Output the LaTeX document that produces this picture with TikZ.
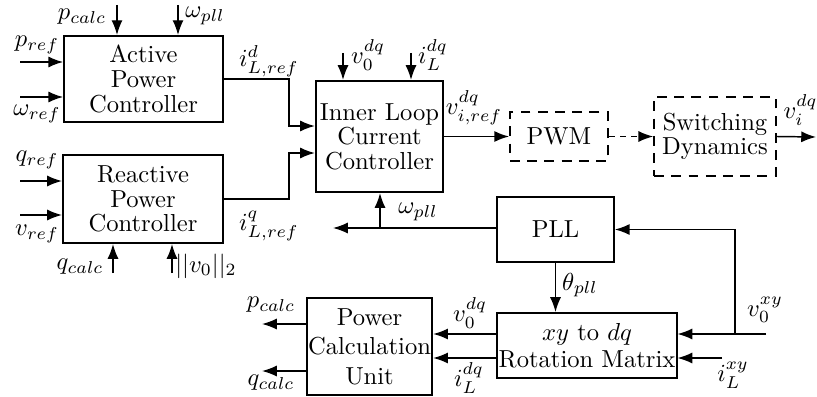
\documentclass[tikz,border=0pt]{standalone}
\usepackage{amsmath,amssymb}
\usepackage{tikz}
\usetikzlibrary{arrows.meta, positioning}

\begin{document}
\begin{tikzpicture}[
  x=0.0143cm, y=-0.0143cm,
  block_box/.style={rectangle, draw=black, thick, align=center, inner sep=0.5pt, font=\fontsize{10pt}{10pt}\selectfont},
  dash_box/.style={rectangle, draw=black, thick, dash pattern=on 4pt off 3pt, align=center, inner sep=0.5pt, font=\fontsize{10pt}{10pt}\selectfont},
  sig_label/.style={inner sep=1pt},
  arrow/.style={-{Latex[length=6pt,width=4.5pt]}, semithick},
  dash_arrow/.style={-{Latex[length=6pt,width=4.5pt]}, semithick, dash pattern=on 2.5pt off 2pt}
]
\useasboundingbox (0,0) rectangle (817,396);

% Controllers
\node[block_box, minimum width=2.27cm, minimum height=1.23cm] (apc) at (143.5,79) {Active\\Power\\Controller};
\node[block_box, minimum width=2.29cm, minimum height=1.26cm] (rpc) at (143,199) {Reactive\\Power\\Controller};
\node[block_box, minimum width=1.82cm, minimum height=1.59cm] (ilc) at (379.5,136.5) {Inner Loop\\Current\\Controller};

% Modulation
\node[dash_box, minimum width=1.40cm, minimum height=0.69cm] (pwm) at (559,136.5) {PWM};
\node[dash_box, minimum width=1.74cm, minimum height=1.13cm] (sw) at (715,136.5) {Switching\\Dynamics};

% Measurement
\node[block_box, minimum width=1.67cm, minimum height=0.93cm] (pll) at (555.5,229.5) {PLL};
\node[block_box, minimum width=2.55cm, minimum height=0.93cm, font=\fontsize{10pt}{11pt}\selectfont] (rot) at (587,345.5) {$xy$ to $dq$\\Rotation Matrix};
\node[block_box, minimum width=1.79cm, minimum height=1.39cm, font=\normalsize] (pcu) at (369.5,346.5) {Power\\Calculation\\Unit};

% Free ends
\coordinate (pref) at (20,62);
\coordinate (wref) at (20,97);
\coordinate (pcalc_in) at (117,5);
\coordinate (wpll_in) at (178,5);
\coordinate (qref) at (20,181);
\coordinate (vref) at (20,215);
\coordinate (qcalc_in) at (113,273);
\coordinate (vnorm_in) at (172,273);
\coordinate (v0_in) at (343,53);
\coordinate (iL_in) at (411,53);
\coordinate (jd) at (289,126);
\coordinate (jq) at (289,153);
\coordinate (vi_out) at (816,137);
\coordinate (wpll_out) at (333,228);
\coordinate (wb) at (380,228);
\coordinate (v0xy) at (766,334);
\coordinate (vb) at (735,334);
\coordinate (iLxy) at (722,358);
\coordinate (pout) at (262,324);
\coordinate (qout) at (262,371);

% Labels
\node[sig_label] (l_pref) at (37,45) {$p_{ref}$};
\node[sig_label] (l_wref) at (37,114) {$\omega_{ref}$};
\node[sig_label] (l_pcalc) at (82,17) {$p_{calc}$};
\node[sig_label] (l_wpll) at (205,16) {$\omega_{pll}$};
\node[sig_label] (l_id) at (269,61) {$i^{d}_{L,ref}$};
\node[sig_label] (l_qref) at (37,160) {$q_{ref}$};
\node[sig_label] (l_vref) at (37,234) {$v_{ref}$};
\node[sig_label] (l_iq) at (269,226) {$i^{q}_{L,ref}$};
\node[sig_label] (l_qcalc) at (80,267) {$q_{calc}$};
\node[sig_label] (l_vnorm) at (206,266) {$||v_0||_2$};
\node[sig_label] (l_v0) at (368,55) {$v_0^{dq}$};
\node[sig_label] (l_iL) at (433,55) {$i_L^{dq}$};
\node[sig_label] (l_viref) at (474,108) {$v_{i,ref}^{dq}$};
\node[sig_label, anchor=west, inner sep=0pt] (l_vi) at (783,110) {$v_i^{dq}$};
\node[sig_label] (l_wpll2) at (418,212) {$\omega_{pll}$};
\node[sig_label] (l_theta) at (580,285) {$\theta_{pll}$};
\node[sig_label] (l_v0xy) at (765,310) {$v_0^{xy}$};
\node[sig_label] (l_iLxy) at (733,375) {$i_L^{xy}$};
\node[sig_label] (l_v0dq) at (470,313) {$v_0^{dq}$};
\node[sig_label] (l_iLdq) at (469,378) {$i_L^{dq}$};
\node[sig_label] (l_pout) at (271,305) {$p_{calc}$};
\node[sig_label] (l_qout) at (271,383) {$q_{calc}$};

% Arrows
\draw[arrow] (pref) -- (pref -| apc.west);
\draw[arrow] (wref) -- (wref -| apc.west);
\draw[arrow] (pcalc_in) -- (pcalc_in |- apc.north);
\draw[arrow] (wpll_in) -- (wpll_in |- apc.north);
\draw[arrow] (qref) -- (qref -| rpc.west);
\draw[arrow] (vref) -- (vref -| rpc.west);
\draw[arrow] (qcalc_in) -- (qcalc_in |- rpc.south);
\draw[arrow] (vnorm_in) -- (vnorm_in |- rpc.south);
\draw[arrow] (apc.east) -| (jd) -- (jd -| ilc.west);
\draw[arrow] (rpc.east) -| (jq) -- (jq -| ilc.west);
\draw[arrow] (v0_in) -- (v0_in |- ilc.north);
\draw[arrow] (iL_in) -- (iL_in |- ilc.north);
\draw[arrow] (ilc.east) -- (pwm.west);
\draw[dash_arrow] (pwm.east) -- (sw.west);
\draw[arrow] (sw.east) -- (vi_out);
\draw[arrow] (pll.west |- wpll_out) -- (wpll_out);
\draw[arrow] (wb) -- (wb |- ilc.south);
\draw[arrow] (pll.south) -- (pll.south |- rot.north);
\draw[arrow] (v0xy) -- (v0xy -| rot.east);
\draw[arrow] (vb) |- (pll.east);
\draw[arrow] (iLxy) -- (iLxy -| rot.east);
\draw[arrow] (rot.west |- v0xy) -- (pcu.east |- v0xy);
\draw[arrow] (rot.west |- iLxy) -- (pcu.east |- iLxy);
\draw[arrow] (pcu.west |- pout) -- (pout);
\draw[arrow] (pcu.west |- qout) -- (qout);

\end{tikzpicture}
\end{document}
